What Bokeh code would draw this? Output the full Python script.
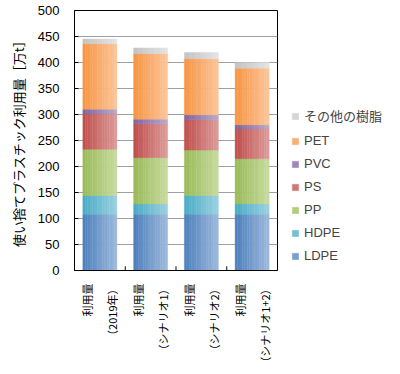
import numpy as np
from bokeh.plotting import figure
from bokeh.models import ColumnDataSource, Legend, LegendItem, FactorRange
from bokeh.transform import dodge
from bokeh.embed import file_html
from bokeh.resources import INLINE

categories = ["利用量\n（2019年）", "利用量\n（シナリオ1）", "利用量\n（シナリオ2）", "利用量\n（シナリオ1+2）"]
series = ["LDPE", "HDPE", "PP", "PS", "PVC", "PET", "その他の樹脂"]
LDPE = [108, 108, 108, 108]
HDPE = [36, 20, 36, 20]
PP = [89, 89, 87.5, 87]
PS = [68, 65, 58.5, 57]
PVC = [9, 9, 9, 8]
PET = [126, 126, 108, 109]
OTHER = [9, 11, 12, 11]
y_ticks = [0, 50, 100, 150, 200, 250, 300, 350, 400, 450, 500]

dark = ["#4F81BD", "#4BACC6", "#9BBB59", "#C0504D", "#8064A2", "#F79646", "#C4C4C4"]
light = ["#9BB8DB", "#97D0DF", "#C6DA9E", "#DB9A98", "#B6A6CB", "#FCC497", "#E2E2E2"]

FONT = "'Liberation Sans', 'Noto Sans CJK JP'"

src = ColumnDataSource(dict(cat=categories, LDPE=LDPE, HDPE=HDPE, PP=PP, PS=PS,
                            PVC=PVC, PET=PET, **{"その他の樹脂": OTHER}))

p = figure(x_range=FactorRange(*categories), y_range=(0, 500),
           frame_width=203, frame_height=260,
           output_backend="svg", toolbar_location=None,
           min_border_left=74, min_border_right=5, min_border_top=10, min_border_bottom=5)

def hex2rgb(h):
    return np.array([int(h[i:i + 2], 16) for i in (1, 3, 5)], dtype=float)

def mix(a, b, t):
    c = hex2rgb(a) * (1 - t) + hex2rgb(b) * t
    return "#%02x%02x%02x" % tuple(int(round(v)) for v in c)

BW = 0.67
N = 14
sw = BW / N
mid_renderers = None
for i in range(N):
    t = i / (N - 1)
    cols = [mix(d, l, t) for d, l in zip(dark, light)]
    off = -BW / 2 + (i + 0.5) * sw
    rs = p.vbar_stack(series, x=dodge("cat", off, range=p.x_range), width=sw * 1.02,
                      color=cols, line_width=0.4, source=src)
    if i == N // 2:
        mid_renderers = rs

# tick marks at category boundaries
tsrc = ColumnDataSource(dict(cat=categories[:-1], y0=[0] * 3, y1=[8] * 3))
p.segment(x0=dodge("cat", 0.5, range=p.x_range), x1=dodge("cat", 0.5, range=p.x_range),
          y0="y0", y1="y1", line_color="black", line_width=1, source=tsrc)

p.xgrid.grid_line_color = None
p.ygrid.grid_line_color = "#A0A0A0"
p.ygrid.grid_line_width = 1.2
p.yaxis.ticker = y_ticks
p.outline_line_color = "black"
p.outline_line_width = 1

p.yaxis.axis_label = "使い捨てプラスチック利用量［万t］"
p.yaxis.axis_label_text_font = "Noto Sans CJK JP"
p.yaxis.axis_label_text_font_style = "normal"
p.yaxis.axis_label_text_font_size = "13px"
p.yaxis.axis_label_text_color = "black"
p.yaxis.axis_label_standoff = 7
p.yaxis.major_label_text_font = "Liberation Sans"
p.yaxis.major_label_text_font_size = "13px"
p.yaxis.major_label_text_color = "black"
p.yaxis.major_tick_in = 4
p.yaxis.major_tick_out = 0
p.yaxis.minor_tick_line_color = None
p.yaxis.major_label_standoff = 15
p.yaxis.axis_line_color = "black"

p.xaxis.major_label_orientation = np.pi / 2
p.xaxis.major_label_text_font = "Noto Sans CJK JP"
p.xaxis.major_label_text_font_size = "11px"
p.xaxis.major_label_text_line_height = 1.55
p.xaxis.major_label_text_color = "black"
p.xaxis.major_tick_line_color = None
p.xaxis.major_label_standoff = 7
p.xaxis.axis_line_color = "black"

items = [LegendItem(label=s, renderers=[r]) for s, r in zip(series, mid_renderers)][::-1]
legend = Legend(items=items, location=(14, 7), glyph_width=8, glyph_height=8,
                label_text_font=FONT, label_text_font_size="13px", label_standoff=5,
                spacing=8, padding=0, margin=0, border_line_color=None,
                background_fill_alpha=0, label_height=15)
p.add_layout(legend, "right")

open("out.html", "w").write(file_html(p, INLINE))
